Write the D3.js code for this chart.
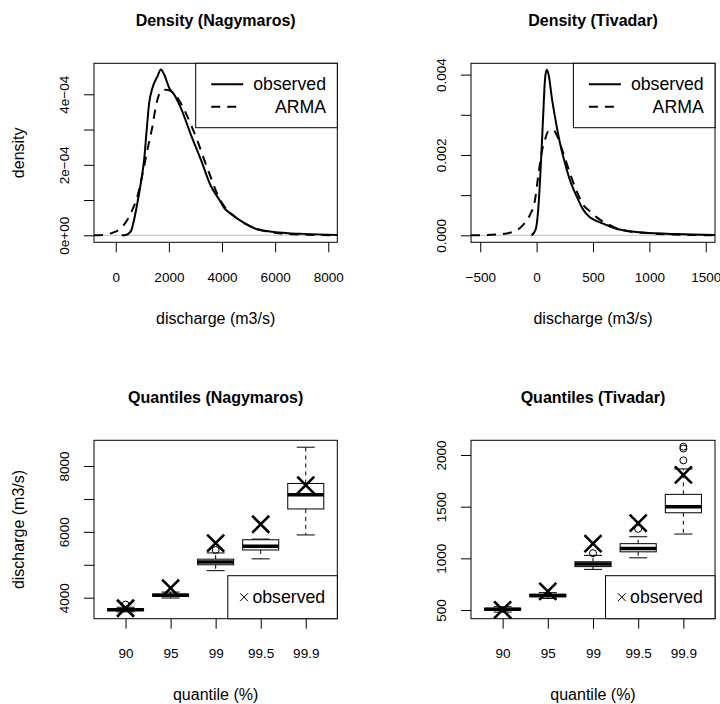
<!DOCTYPE html>
<html><head><meta charset="utf-8">
<script src="https://cdn.jsdelivr.net/npm/d3@7"></script>
<style>
body{margin:0;background:#fff}
svg{display:block}
text{font-family:"Liberation Sans",Arial,Helvetica,sans-serif;fill:#000}
</style>
</head><body>
<svg id="c" width="720" height="704"></svg>
<script>
// ---------------- DATA ----------------
// Density (Nagymaros): [discharge, density]
const nagyObs = [[226,0],[377,0.01e-4],[566,0.11e-4],[690,0.44e-4],[815,0.92e-4],[943,1.48e-4],[1068,2.14e-4],[1155,2.9e-4],[1257,3.75e-4],[1381,4.18e-4],[1570,4.51e-4],[1698,4.70e-4],[1823,4.56e-4],[2012,4.18e-4],[2200,3.99e-4],[2453,3.61e-4],[2830,2.85e-4],[3208,2.14e-4],[3585,1.39e-4],[3898,1.01e-4],[4087,0.77e-4],[4313,0.62e-4],[4816,0.36e-4],[5321,0.17e-4],[5800,0.11e-4],[6500,0.06e-4],[7080,0.04e-4],[8340,0.01e-4]];
const nagyArma = [[-819,0],[-500,0.01e-4],[-128,0.07e-4],[125,0.16e-4],[438,0.44e-4],[627,0.73e-4],[815,1.1e-4],[1004,1.72e-4],[1193,2.43e-4],[1381,3.09e-4],[1510,3.66e-4],[1698,4.08e-4],[1887,4.13e-4],[2076,4.09e-4],[2325,3.9e-4],[2578,3.56e-4],[2830,3.14e-4],[3080,2.67e-4],[3332,2.14e-4],[3585,1.63e-4],[3834,1.15e-4],[4087,0.82e-4],[4500,0.52e-4],[5000,0.28e-4],[5500,0.14e-4],[6000,0.07e-4],[7000,0.02e-4],[8340,0]];
// Density (Tivadar)
const tivObs = [[-45,0],[-9,0.14e-3],[14,0.64e-3],[29,1.3e-3],[44,2.13e-3],[59,3.04e-3],[74,3.87e-3],[89,4.12e-3],[109,3.96e-3],[133,3.46e-3],[162,2.96e-3],[207,2.3e-3],[251,1.8e-3],[295,1.38e-3],[355,0.97e-3],[413,0.64e-3],[472,0.45e-3],[530,0.36e-3],[600,0.28e-3],[680,0.19e-3],[780,0.12e-3],[945,0.07e-3],[1241,0.03e-3],[1582,0.01e-3]];
const tivArma = [[-582,0],[-355,0.02e-3],[-207,0.09e-3],[-119,0.26e-3],[-59,0.51e-3],[-15,0.87e-3],[14,1.47e-3],[44,2.05e-3],[74,2.38e-3],[103,2.59e-3],[147,2.63e-3],[177,2.5e-3],[236,2.05e-3],[295,1.55e-3],[355,1.1e-3],[413,0.76e-3],[472,0.6e-3],[561,0.39e-3],[650,0.25e-3],[750,0.14e-3],[850,0.09e-3],[1000,0.05e-3],[1200,0.02e-3],[1582,0]];

// Density axes
const nagyDensXTicks = [0,2000,4000,6000,8000];
const nagyDensXLabels = ["0","2000","4000","6000","8000"];
const nagyDensYTicks = [0,1e-4,2e-4,3e-4,4e-4];
const nagyDensYLabels = ["0e+00","","2e\u221204","","4e\u221204"];
const tivDensXTicks = [-500,0,500,1000,1500];
const tivDensXLabels = ["\u2212500","0","500","1000","1500"];
const tivDensYTicks = [0,0.001,0.002,0.003,0.004];
const tivDensYLabels = ["0.000","","0.002","","0.004"];

// Quantile boxplots: [lower whisker, Q1, median, Q3, upper whisker]
const quantileLabels = ["90","95","99","99.5","99.9"];
const nagyBoxes = [[3570,3610,3635,3665,3710],[3990,4045,4075,4110,4170],[4821,5000,5085,5170,5360],[5180,5450,5560,5760,5780],[5906,6696,7130,7470,8571]];
const nagyOutliers = [[3790],[],[5450],[],[]];
const nagyObserved = [3680,4290,5660,6230,7420];
const tivBoxes = [[480,497,507,517,532],[612,628,640,652,668],[893,920,945,967,1029],[1005,1063,1095,1142,1209],[1235,1441,1499,1619,1865]];
const tivOutliers = [[],[],[1050],[1285],[1948,2062,2080]];
const tivObserved = [502,680,1142,1340,1808];
const nagyQYTicks = [4000,5000,6000,7000,8000];
const nagyQYLabels = ["4000","","6000","","8000"];
const tivQYTicks = [500,1000,1500,2000];
const tivQYLabels = ["500","1000","1500","2000"];

// ---------------- DRAWING ----------------
const svg = d3.select("#c");
svg.append("rect").attr("width",720).attr("height",704).attr("fill","#fff");

const P = {
  TL:{x0:94,x1:337.3,y0:63.3,y1:242.3},
  TR:{x0:471,x1:715,y0:63.3,y1:242.3},
  BL:{x0:94,x1:337.3,y0:440.3,y1:618.7},
  BR:{x0:471,x1:715,y0:440.3,y1:618.7}
};

function frame(p, xs, ys, xt, xl, yt, yl, title, xlab, ylab){
  const g = svg.append("g");
  const ax = d3.axisBottom(xs).tickValues(xt).tickFormat((d,i)=>xl[i]).tickSize(10).tickSizeOuter(0);
  const gx = g.append("g").attr("transform",`translate(0,${p.y1})`).call(ax)
    .attr("font-size",null).attr("font-family",null);
  gx.select(".domain").remove();
  gx.selectAll(".tick line").attr("stroke","#000");
  gx.selectAll(".tick text").attr("y",39.5).attr("dy",null).attr("fill","#000").style("font-size","13.5px");

  const ay = d3.axisLeft(ys).tickValues(yt).tickFormat((d,i)=>yl[i]).tickSize(10).tickSizeOuter(0);
  const gy = g.append("g").attr("transform",`translate(${p.x0},0)`).call(ay)
    .attr("font-size",null).attr("font-family",null);
  gy.select(".domain").remove();
  gy.selectAll(".tick line").attr("stroke","#000");
  gy.selectAll(".tick text").attr("x",null).attr("dy",null).attr("text-anchor","middle")
    .attr("transform","translate(-25.5,0) rotate(-90)").attr("fill","#000").style("font-size","13.5px");

  g.append("rect").attr("x",p.x0).attr("y",p.y0).attr("width",p.x1-p.x0).attr("height",p.y1-p.y0)
    .attr("fill","none").attr("stroke","#000").attr("stroke-width",1);

  const cx = (p.x0+p.x1)/2, cy=(p.y0+p.y1)/2;
  g.append("text").attr("x",cx).attr("y",p.y0-37).attr("text-anchor","middle")
    .style("font-size","16px").style("font-weight","bold").text(title);
  g.append("text").attr("x",cx).attr("y",p.y1+81.2).attr("text-anchor","middle")
    .style("font-size","16px").text(xlab);
  if (ylab) g.append("text").attr("transform",`translate(${p.x0-70},${cy}) rotate(-90)`).attr("text-anchor","middle")
    .style("font-size","16px").text(ylab);
  return g;
}

let clipId = 0;
function densityPanel(p, xd, yd, obs, arma, xt, xl, yt, yl, title, ylab){
  const xs = d3.scaleLinear().domain(xd).range([p.x0,p.x1]);
  const ys = d3.scaleLinear().domain(yd).range([p.y1,p.y0]);
  const id = "clip"+(clipId++);
  svg.append("clipPath").attr("id",id).append("rect")
    .attr("x",p.x0).attr("y",p.y0).attr("width",p.x1-p.x0).attr("height",p.y1-p.y0);
  const g = svg.append("g").attr("clip-path",`url(#${id})`);
  g.append("line").attr("x1",p.x0).attr("x2",p.x1).attr("y1",ys(0)).attr("y2",ys(0))
    .attr("stroke","#bebebe").attr("stroke-width",1);
  const line = d3.line().x(d=>xs(d[0])).y(d=>ys(d[1])).curve(d3.curveMonotoneX);
  g.append("path").attr("d",line(arma)).attr("fill","none").attr("stroke","#000")
    .attr("stroke-width",2).attr("stroke-dasharray","9,7");
  g.append("path").attr("d",line(obs)).attr("fill","none").attr("stroke","#000")
    .attr("stroke-width",2).attr("stroke-linejoin","round");
  frame(p, xs, ys, xt, xl, yt, yl, title, "discharge (m3/s)", ylab);
  // legend
  const lx0 = p.x1-141.6, ly0 = p.y0, lh = 64.4;
  const lg = svg.append("g");
  lg.append("rect").attr("x",lx0).attr("y",ly0).attr("width",p.x1-lx0).attr("height",lh)
    .attr("fill","#fff").attr("stroke","#000").attr("stroke-width",1);
  const rows = [{t:"observed",dash:null,y:ly0+21},{t:"ARMA",dash:"9,7",y:ly0+43.4}];
  rows.forEach(r=>{
    lg.append("line").attr("x1",lx0+15.5).attr("x2",lx0+47.5).attr("y1",r.y).attr("y2",r.y)
      .attr("stroke","#000").attr("stroke-width",2).attr("stroke-dasharray",r.dash);
    lg.append("text").attr("x",p.x1-11.3).attr("y",r.y+6).attr("text-anchor","end")
      .style("font-size","17.7px").text(r.t);
  });
}

function cross(g, x, y, h, w){
  g.append("path").attr("d",`M${x-h},${y-h}L${x+h},${y+h}M${x-h},${y+h}L${x+h},${y-h}`)
    .attr("stroke","#000").attr("stroke-width",w).attr("fill","none");
}

function quantilePanel(p, yd, boxes, outl, observed, yt, yl, title, ylab){
  const xs = d3.scaleLinear().domain([0.3,5.7]).range([p.x0,p.x1]);
  const ys = d3.scaleLinear().domain(yd).range([p.y1,p.y0]);
  const unit = xs(1)-xs(0);
  const hw = 0.4*unit;
  const g = svg.append("g");
  boxes.forEach((b,i)=>{
    const cx = xs(i+1);
    const [lo,q1,med,q3,hi] = b;
    g.append("line").attr("x1",cx).attr("x2",cx).attr("y1",ys(q3)).attr("y2",ys(hi))
      .attr("stroke","#000").attr("stroke-dasharray","4,4");
    g.append("line").attr("x1",cx).attr("x2",cx).attr("y1",ys(q1)).attr("y2",ys(lo))
      .attr("stroke","#000").attr("stroke-dasharray","4,4");
    [lo,hi].forEach(v=>g.append("line").attr("x1",cx-hw/2).attr("x2",cx+hw/2)
      .attr("y1",ys(v)).attr("y2",ys(v)).attr("stroke","#000"));
    g.append("rect").attr("x",cx-hw).attr("width",2*hw).attr("y",ys(q3)).attr("height",ys(q1)-ys(q3))
      .attr("fill","#fff").attr("stroke","#000");
    g.append("line").attr("x1",cx-hw).attr("x2",cx+hw).attr("y1",ys(med)).attr("y2",ys(med))
      .attr("stroke","#000").attr("stroke-width",3.5);
    outl[i].forEach(v=>g.append("circle").attr("cx",cx).attr("cy",ys(v)).attr("r",3.5)
      .attr("fill","none").attr("stroke","#000"));
  });
  observed.forEach((v,i)=>cross(g, xs(i+1), ys(v), 8.5, 2.6));
  frame(p, xs, ys, [1,2,3,4,5], quantileLabels, yt, yl, title, "quantile (%)", ylab);
  const lx0 = p.x1-109.5, ly0 = p.y1-43;
  const lg = svg.append("g");
  lg.append("rect").attr("x",lx0).attr("y",ly0).attr("width",p.x1-lx0).attr("height",43)
    .attr("fill","#fff").attr("stroke","#000");
  cross(lg, lx0+16.3, ly0+21.5, 4, 1);
  lg.append("text").attr("x",lx0+24.6).attr("y",ly0+27.5).style("font-size","17.7px").text("observed");
}

densityPanel(P.TL, [-819,8340], [-0.199e-4,4.879e-4], nagyObs, nagyArma,
  nagyDensXTicks, nagyDensXLabels, nagyDensYTicks, nagyDensYLabels, "Density (Nagymaros)", "density");
densityPanel(P.TR, [-582,1582], [-0.174e-3,4.282e-3], tivObs, tivArma,
  tivDensXTicks, tivDensXLabels, tivDensYTicks, tivDensYLabels, "Density (Tivadar)", null);
quantilePanel(P.BL, [3362,8781], nagyBoxes, nagyOutliers, nagyObserved, nagyQYTicks, nagyQYLabels,
  "Quantiles (Nagymaros)", "discharge (m3/s)");
quantilePanel(P.BR, [416,2142], tivBoxes, tivOutliers, tivObserved, tivQYTicks, tivQYLabels,
  "Quantiles (Tivadar)", null);
</script>
</body></html>
